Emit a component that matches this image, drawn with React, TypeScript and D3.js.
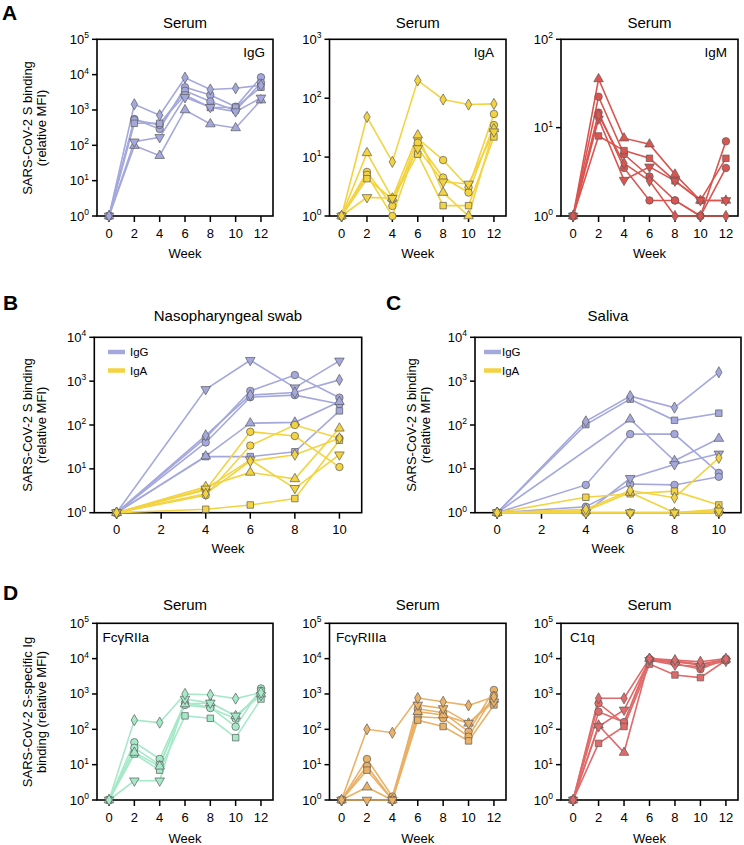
import React from "react";
import * as d3 from "d3";

// ---------- data ----------
const weeksSerum = [0, 2, 4, 6, 8, 10, 12];
const weeksMucosal = [0, 4, 6, 8, 10];
const tickWeeksSerum = [0, 2, 4, 6, 8, 10, 12];
const tickWeeksMucosal = [0, 2, 4, 6, 8, 10];
// subject order: circle, circle, square, triangle up, triangle down, diamond
const subjectShapes = ["circle", "circle", "square", "triangle", "triangleDown", "diamond"];

const serumIgG = [
  [1, 556, 290, 4400, 2650, 1240, 8400],
  [1, 520, 380, 3500, 1730, 960, 5900],
  [1, 420, 420, 2650, 1170, 1200, 4400],
  [1, 98, 51, 1000, 400, 310, 1900],
  [1, 126, 168, 2280, 1200, 900, 2200],
  [1, 1450, 710, 8200, 3800, 4100, 5000],
];
const serumIgA = [
  [1, 5.6, 1.48, 20.7, 8.9, 3.05, 54],
  [1, 5.0, 1.0, 17.5, 4.5, 2.5, 35],
  [1, 4.3, 1.95, 11.2, 1.5, 1.5, 22],
  [1, 11.8, 2.0, 23.6, 2.5, 1.0, 30],
  [1, 2.07, 2.0, 14, 3.8, 3.5, 27],
  [1, 48, 8.3, 200, 95, 78, 80],
];
const serumIgM = [
  [1, 22.4, 5.0, 2.8, 1.5, 1.0, 7.0],
  [1, 14.8, 3.5, 1.5, 1.5, 1.0, 3.5],
  [1, 8.05, 5.5, 4.5, 2.5, 1.5, 4.5],
  [1, 35.6, 7.6, 6.5, 2.96, 1.5, 1.5],
  [1, 12.6, 2.55, 3.6, 2.5, 1.5, 1.5],
  [1, 13.9, 3.95, 2.5, 1.0, 1.0, 1.0],
];
const nasalIgG = [
  [1, 51, 600, 1380, 420],
  [1, 40, 430, 480, 300],
  [1, 19, 19, 24.5, 210],
  [1, 19.5, 110, 115, 340],
  [1, 650, 3000, 710, 2900],
  [1, 58, 480, 550, 1070],
];
const nasalIgA = [
  [1, 3.3, 70, 56, 11],
  [1, 2.5, 34, 100, 50],
  [1, 1.2, 1.5, 2.1, 45],
  [1, 3.9, 8.3, 5.9, 84],
  [1, 3.5, 16, 3.6, 21],
  [1, 2.7, 15, 21, 50],
];
const salivaIgG = [
  [1, 4.3, 62, 62, 8.1],
  [1, 1.37, 4.5, 4.3, 6.6],
  [1, 102, 388, 128, 186],
  [1, null, 135, 15.3, 49],
  [1, 1.0, 6.1, 12.6, 22],
  [1, 121, 455, 250, 1590],
];
const salivaIgA = [
  [1, 1, 1, 1, 1],
  [1, 1, 1, 1, 1],
  [1, 2.25, 2.7, 3.1, 1.5],
  [1, 1.1, 2.9, 1.0, 1.2],
  [1, 1, 1, 1, 1.1],
  [1, 1.2, 3.2, 2.2, 17.8],
];
const fcgr2a = [
  [1, 43, 14.5, 565, 420, 119, 1440],
  [1, 30, 10, 490, 400, 200, 1240],
  [1, 20, 7.0, 240, 205, 58, 720],
  [1, 22, 9, 520, 560, 240, 1000],
  [1, 3.5, 3.5, 720, 560, 240, 915],
  [1, 182, 155, 1000, 950, 740, 1100],
];
const fcgr3a = [
  [1, 14.5, 1.25, 380, 295, 86, 1300],
  [1, 9.2, 1.0, 230, 205, 62, 910],
  [1, 7.0, 1.0, 182, 120, 47, 490],
  [1, 2.3, 1.0, 315, 255, 148, 700],
  [1, 1.0, 1.0, 490, 390, 150, 600],
  [1, 100, 80, 770, 600, 475, 830],
];
const c1q = [
  [1, 545, 148, 9500, 7300, 5000, 10000],
  [1, 315, 160, 9800, 8000, 6600, 9100],
  [1, 40, 120, 7000, 3450, 2900, 9000],
  [1, 130, 22, 10000, 8500, 7000, 9500],
  [1, 120, 355, 9000, 6600, 6000, 8500],
  [1, 755, 755, 10000, 9100, 8200, 10000],
];

// ---------- style ----------
const FONT = "Arial, 'Liberation Sans', Helvetica, sans-serif";
const C_IGG = "#a4a8dd";
const C_IGA = "#f3d340";
const C_IGM = "#da5450";
const C_R2A = "#a6e9c9";
const C_R3A = "#eab167";
const C_C1Q = "#e06a6a";

const symbolPath = (shape: string) => {
  switch (shape) {
    case "circle":
      return d3.symbol().type(d3.symbolCircle).size(44)();
    case "square":
      return d3.symbol().type(d3.symbolSquare).size(42)();
    case "triangle":
    case "triangleDown":
      return d3.symbol().type(d3.symbolTriangle).size(40)();
    default:
      return d3.symbol().type(d3.symbolDiamond).size(36)();
  }
};

type Series = { data: (number | null)[][]; color: string };

type PanelProps = {
  x0: number; x1: number; y0: number; y1: number;
  xDomain: [number, number];
  weeks: number[];
  tickWeeks: number[];
  maxExp: number;
  series: Series[];
  title: string;
  titleY: number;
  weekY: number;
};

function Panel(p: PanelProps) {
  const x = d3.scaleLinear().domain(p.xDomain).range([p.x0, p.x1]);
  const y = d3.scaleLog().domain([1, Math.pow(10, p.maxExp)]).range([p.y1, p.y0]);
  const exps = d3.range(0, p.maxExp + 1);
  const line = d3
    .line<[number, number]>()
    .x((d) => x(d[0]))
    .y((d) => y(d[1]));
  const cx = (p.x0 + p.x1) / 2;
  return (
    <g>
      <text x={cx} y={p.titleY} textAnchor="middle" fontSize={15} fontFamily={FONT}>
        {p.title}
      </text>
      {exps.map((k) => (
        <g key={"y" + k}>
          <line x1={p.x0 - 5} x2={p.x0} y1={y(Math.pow(10, k))} y2={y(Math.pow(10, k))} stroke="#000" strokeWidth={1.5} />
          <text x={p.x0 - 8} y={y(Math.pow(10, k)) + 4.5} textAnchor="end" fontSize={13} fontFamily={FONT}>
            10
            <tspan dy={-5.5} fontSize={8.5}>{k}</tspan>
          </text>
        </g>
      ))}
      {p.tickWeeks.map((w) => (
        <g key={"x" + w}>
          <line x1={x(w)} x2={x(w)} y1={p.y1} y2={p.y1 + 6} stroke="#000" strokeWidth={1.5} />
          <text x={x(w)} y={p.y1 + 21.5} textAnchor="middle" fontSize={13} fontFamily={FONT}>
            {w}
          </text>
        </g>
      ))}
      <text x={cx} y={p.weekY} textAnchor="middle" fontSize={13} fontFamily={FONT}>
        Week
      </text>
      <rect x={p.x0} y={p.y0} width={p.x1 - p.x0} height={p.y1 - p.y0} fill="none" stroke="#000" strokeWidth={1.6} />
      {p.series.map((s, si) =>
        s.data.map((row, ri) => {
          const pts = row
            .map((v, i) => [p.weeks[i], v] as [number, number | null])
            .filter((d) => d[1] != null) as [number, number][];
          return (
            <path key={"l" + si + "-" + ri} d={line(pts) || ""} fill="none" stroke={s.color} strokeWidth={1.6} />
          );
        })
      )}
      {p.series.map((s, si) =>
        s.data.map((row, ri) =>
          row.map((v, i) =>
            v == null ? null : (
              <path
                key={"m" + si + "-" + ri + "-" + i}
                d={symbolPath(subjectShapes[ri]) || ""}
                transform={`translate(${x(p.weeks[i])},${y(v)})${subjectShapes[ri] === "triangleDown" ? " rotate(180)" : ""}`}
                fill={s.color}
                stroke="#5a5a5a"
                strokeWidth={0.7}
              />
            )
          )
        )
      )}
    </g>
  );
}

function YLabel({ x, y, lines }: { x: number; y: number; lines: string[] }) {
  return (
    <g>
      {lines.map((t, i) => (
        <text
          key={i}
          transform={`translate(${x + i * 14},${y}) rotate(-90)`}
          textAnchor="middle"
          fontSize={13}
          fontFamily={FONT}
        >
          {t}
        </text>
      ))}
    </g>
  );
}

function Letter({ x, y, t }: { x: number; y: number; t: string }) {
  return (
    <text x={x} y={y} fontSize={21} fontWeight="bold" fontFamily={FONT}>
      {t}
    </text>
  );
}

function Legend({ x, y, tx }: { x: number; y: number; tx: number }) {
  const items = [
    { label: "IgG", color: C_IGG },
    { label: "IgA", color: C_IGA },
  ];
  return (
    <g>
      {items.map((it, i) => (
        <g key={it.label}>
          <line x1={x} x2={x + 17} y1={y + i * 18.5} y2={y + i * 18.5} stroke={it.color} strokeWidth={4.5} />
          <text x={tx} y={y + i * 18.5 + 4} fontSize={11.5} fontFamily={FONT}>
            {it.label}
          </text>
        </g>
      ))}
    </g>
  );
}

export default function App() {
  const colsSerum = [
    [97, 273],
    [329.5, 506],
    [561, 738],
  ];
  const sx: [number, number] = [-0.95, 12.95];
  const mx: [number, number] = [-1, 11];
  return (
    <svg width={744} height={845} style={{ position: "absolute", left: 0, top: 0, background: "#fff" }}>
      <rect width={744} height={845} fill="#fff" />
      {/* Row A */}
      <Letter x={2} y={19.5} t="A" />
      <YLabel x={32} y={128} lines={["SARS-CoV-2 S binding", "(relative MFI)"]} />
      <Panel x0={colsSerum[0][0]} x1={colsSerum[0][1]} y0={39.3} y1={216} xDomain={sx} weeks={weeksSerum}
        tickWeeks={tickWeeksSerum} maxExp={5} series={[{ data: serumIgG, color: C_IGG }]} title="Serum" titleY={28} weekY={258} />
      <Panel x0={colsSerum[1][0]} x1={colsSerum[1][1]} y0={39.3} y1={216} xDomain={sx} weeks={weeksSerum}
        tickWeeks={tickWeeksSerum} maxExp={3} series={[{ data: serumIgA, color: C_IGA }]} title="Serum" titleY={28} weekY={258} />
      <Panel x0={colsSerum[2][0]} x1={colsSerum[2][1]} y0={39.3} y1={216} xDomain={sx} weeks={weeksSerum}
        tickWeeks={tickWeeksSerum} maxExp={2} series={[{ data: serumIgM, color: C_IGM }]} title="Serum" titleY={28} weekY={258} />
      <text x={265} y={57} textAnchor="end" fontSize={13.5} fontFamily={FONT}>IgG</text>
      <text x={494} y={57} textAnchor="end" fontSize={13.5} fontFamily={FONT}>IgA</text>
      <text x={727} y={57} textAnchor="end" fontSize={13.5} fontFamily={FONT}>IgM</text>

      {/* Row B / C */}
      <Letter x={3} y={310} t="B" />
      <YLabel x={32} y={425} lines={["SARS-CoV-2 S binding", "(relative MFI)"]} />
      <Panel x0={94.3} x1={361.7} y0={337.3} y1={512.7} xDomain={mx} weeks={weeksMucosal}
        tickWeeks={tickWeeksMucosal} maxExp={4}
        series={[{ data: nasalIgG, color: C_IGG }, { data: nasalIgA, color: C_IGA }]}
        title="Nasopharyngeal swab" titleY={321} weekY={553} />
      <Legend x={108} y={352} tx={130} />

      <Letter x={386} y={310} t="C" />
      <YLabel x={416} y={425} lines={["SARS-CoV-2 S binding", "(relative MFI)"]} />
      <Panel x0={475} x1={741} y0={337.3} y1={512.7} xDomain={mx} weeks={weeksMucosal}
        tickWeeks={tickWeeksMucosal} maxExp={4}
        series={[{ data: salivaIgG, color: C_IGG }, { data: salivaIgA, color: C_IGA }]}
        title="Saliva" titleY={321} weekY={553} />
      <Legend x={484} y={352} tx={502} />

      {/* Row D */}
      <Letter x={3} y={600} t="D" />
      <YLabel x={32} y={712} lines={["SARS-CoV-2 S-specific Ig", "binding (relative MFI)"]} />
      <Panel x0={colsSerum[0][0]} x1={colsSerum[0][1]} y0={623.3} y1={800} xDomain={sx} weeks={weeksSerum}
        tickWeeks={tickWeeksSerum} maxExp={5} series={[{ data: fcgr2a, color: C_R2A }]} title="Serum" titleY={610} weekY={843} />
      <Panel x0={colsSerum[1][0]} x1={colsSerum[1][1]} y0={623.3} y1={800} xDomain={sx} weeks={weeksSerum}
        tickWeeks={tickWeeksSerum} maxExp={5} series={[{ data: fcgr3a, color: C_R3A }]} title="Serum" titleY={610} weekY={843} />
      <Panel x0={colsSerum[2][0]} x1={colsSerum[2][1]} y0={623.3} y1={800} xDomain={sx} weeks={weeksSerum}
        tickWeeks={tickWeeksSerum} maxExp={5} series={[{ data: c1q, color: C_C1Q }]} title="Serum" titleY={610} weekY={843} />
      <text x={102.5} y={642} fontSize={13.5} fontFamily={FONT}>FcγRIIa</text>
      <text x={336} y={642} fontSize={13.5} fontFamily={FONT}>FcγRIIIa</text>
      <text x={570} y={642} fontSize={13.5} fontFamily={FONT}>C1q</text>
    </svg>
  );
}
